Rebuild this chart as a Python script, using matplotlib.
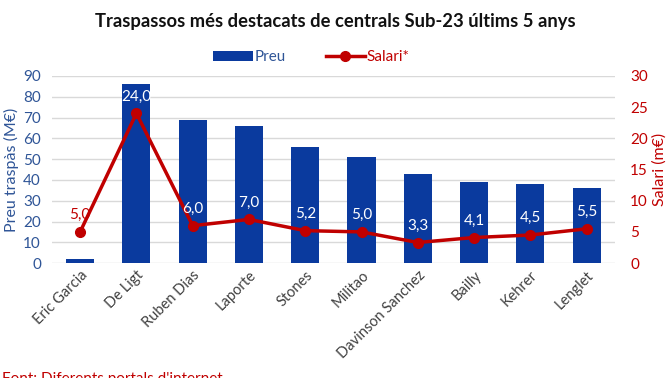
import matplotlib.pyplot as plt

plt.rcParams['font.family'] = ['Lato', 'DejaVu Sans']

jugadors = ["Eric Garcia", "De Ligt", "Ruben Dias", "Laporte", "Stones",
            "Militao", "Davinson Sanchez", "Bailly", "Kehrer", "Lenglet"]
preu = [2, 86, 69, 66, 56, 51, 43, 39, 38, 36]
salari = [5.0, 24.0, 6.0, 7.0, 5.2, 5.0, 3.3, 4.1, 4.5, 5.5]

blau = "#0a3a9e"
vermell = "#c00000"
blau_text = "#2f5597"

fig = plt.figure(figsize=(6.7, 3.78), dpi=100)
ax = fig.add_axes([0.0776, 0.304, 0.840, 0.495])
ax2 = ax.twinx()

x = range(len(jugadors))
barres = ax.bar(x, preu, width=0.5, color=blau, label="Preu", zorder=2)
ax.set_xlim(-0.5, len(jugadors) - 0.5)
ax.set_ylim(0, 90)
ax.set_yticks(range(0, 91, 10))
ax.grid(axis="y", color="#d9d9d9", linewidth=1, zorder=0)
ax.set_axisbelow(True)
for s in ax.spines.values():
    s.set_visible(False)
for s in ax2.spines.values():
    s.set_visible(False)
ax.tick_params(axis="both", length=0, labelsize=11)
ax.tick_params(axis="y", colors=blau_text, pad=8)
ax.set_xticks(list(x))
ax.set_xticklabels(jugadors, rotation=45, ha="right", rotation_mode="anchor",
                   color="#404040", fontsize=10.5)
ax.set_ylabel("Preu traspàs (M€)", color=blau_text, fontsize=11.5, labelpad=3)

linia, = ax2.plot(x, salari, color=vermell, linewidth=2.5, marker="o",
                  markersize=7, label="Salari*", zorder=3)
ax2.set_ylim(0, 30)
ax2.set_yticks(range(0, 31, 5))
ax2.tick_params(axis="y", length=0, colors=vermell, labelsize=11, pad=11)
ax2.set_ylabel("Salari (m€)", color=vermell, fontsize=11.5, labelpad=3)

for i, v in enumerate(salari):
    dins = preu[i] / 3 > v + 2.5
    ax2.annotate(f"{v:.1f}".replace(".", ","), (i, v), xytext=(0, 12),
                 textcoords="offset points", ha="center", va="center",
                 fontsize=11, color="white" if dins else vermell, zorder=4)

leg = fig.legend([barres, linia], ["Preu", "Salari*"], loc="center",
                 bbox_to_anchor=(0.465, 0.848), ncol=2, frameon=False,
                 fontsize=11, handlelength=2.6, handletextpad=0.1,
                 columnspacing=2.6)
for t, c in zip(leg.get_texts(), [blau_text, vermell]):
    t.set_color(c)

fig.text(0.5, 0.965, "Traspassos més destacats de centrals Sub-23 últims 5 anys",
         ha="center", va="top", fontsize=13.2, fontweight="bold", color="#111111")
fig.text(0.003, -0.012, "Font: Diferents portals d'internet", ha="left",
         va="baseline", fontsize=11, color=vermell)

fig.savefig("out.png", dpi=100)
